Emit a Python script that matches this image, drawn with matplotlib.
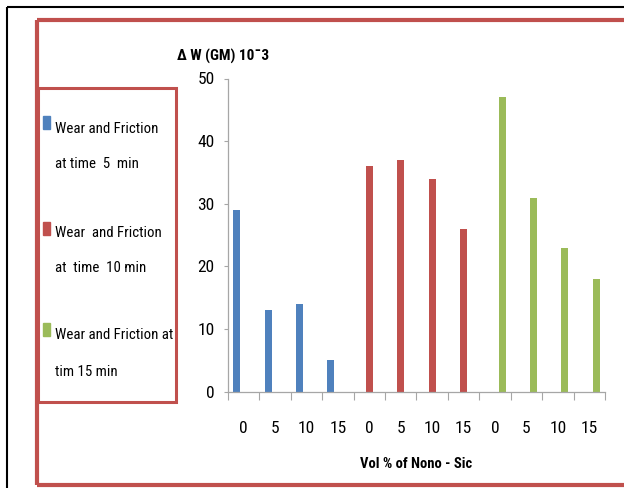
import matplotlib
matplotlib.use('Agg')

import matplotlib.pyplot as plt
from matplotlib import font_manager
from matplotlib.patches import Rectangle

# Données du graphique
categories = ['0', '5', '10', '15', '0', '5', '10', '15', '0', '5', '10', '15']
wear_5min = [29, 13, 14, 5]
wear_10min = [36, 37, 34, 26]
wear_15min = [47, 31, 23, 18]
y_ticks = [0, 10, 20, 30, 40, 50]

blue = '#4F81BD'
red = '#C0504D'
green = '#9BBB59'

# Police étroite (comme Calibri dans Excel) si disponible
names = {f.name for f in font_manager.fontManager.ttflist}
narrow = 'DejaVu Sans'
for cand in ['Roboto Condensed', 'Liberation Sans Narrow', 'Open Sans Condensed', 'Liberation Sans']:
    if cand in names:
        narrow = cand
        break
plt.rcParams['font.family'] = [narrow, 'DejaVu Sans']

fig = plt.figure(figsize=(6.24, 4.88), dpi=100)

# Cadres (en pixels)
deco = fig.add_axes([0, 0, 1, 1], zorder=-1)
deco.set_xlim(0, 624)
deco.set_ylim(488, 0)
deco.axis('off')
deco.plot([7, 624], [7, 7], color='black', lw=1.5, solid_capstyle='butt')
deco.plot([7, 7], [7, 488], color='black', lw=1.5, solid_capstyle='butt')
deco.plot([37, 624], [20, 20], color=red, lw=3, solid_capstyle='butt')
deco.plot([37, 37], [20, 485], color=red, lw=3, solid_capstyle='butt')
deco.plot([37, 624], [485, 485], color=red, lw=3, solid_capstyle='butt')
deco.add_patch(Rectangle((38, 88), 138, 314, fill=False, edgecolor=red, lw=2.2))

# Légende manuelle
legend_items = [
    (blue, 'Wear and Friction', 'at time  5  min', 116, 133, 168),
    (red, 'Wear  and Friction', 'at  time  10 min', 222, 237, 272),
    (green, 'Wear and Friction at', 'tim 15 min', 323, 339, 376),
]
for col, l1, l2, sq, b1, b2 in legend_items:
    deco.add_patch(Rectangle((43, sq), 7, 13, color=col))
    deco.text(55, b1, l1, fontsize=10.7, va='baseline', ha='left')
    deco.text(55, b2, l2, fontsize=10.7, va='baseline', ha='left')

# Graphique principal
ax = fig.add_axes([228 / 624, 1 - 391.7 / 488, 377 / 624, 313.2 / 488])
ax.set_facecolor('none')
w = 0.222
x = list(range(12))
ax.bar([i - w for i in x[0:4]], wear_5min, width=w, color=blue, label='Wear and Friction at time 5 min')
ax.bar(x[4:8], wear_10min, width=w, color=red, label='Wear and Friction at time 10 min')
ax.bar([i + w for i in x[8:12]], wear_15min, width=w, color=green, label='Wear and Friction at tim 15 min')

ax.set_xlim(-0.5, 11.5)
ax.set_ylim(0, 50)
ax.set_yticks(y_ticks)
ax.set_xticks(x)
ax.set_xticklabels(categories)
ax.set_xticks([i + 0.5 for i in range(-1, 12)], minor=True)

for s in ['top', 'right']:
    ax.spines[s].set_visible(False)
for s in ['left', 'bottom']:
    ax.spines[s].set_color('#A6A6A6')
    ax.spines[s].set_linewidth(0.9)

ax.tick_params(axis='y', direction='out', length=3.2, width=0.8, color='#A6A6A6', pad=6.5, labelsize=12.5)
ax.tick_params(axis='x', which='major', length=0, pad=21, labelsize=12.5)
ax.tick_params(axis='x', which='minor', direction='out', length=5.5, width=0.8, color='#A6A6A6')

ax.set_xlabel('Vol % of Nono - Sic', fontsize=10.5, fontweight='bold', va='top')
ax.xaxis.set_label_coords(0.5, -0.21)
ax.set_ylabel('Δ W (GM) 10ˉ3', fontsize=11, fontweight='bold', rotation=0, ha='left', va='center')
ax.yaxis.set_label_coords(-0.135, 1.069)

fig.savefig('out.png', dpi=100)
